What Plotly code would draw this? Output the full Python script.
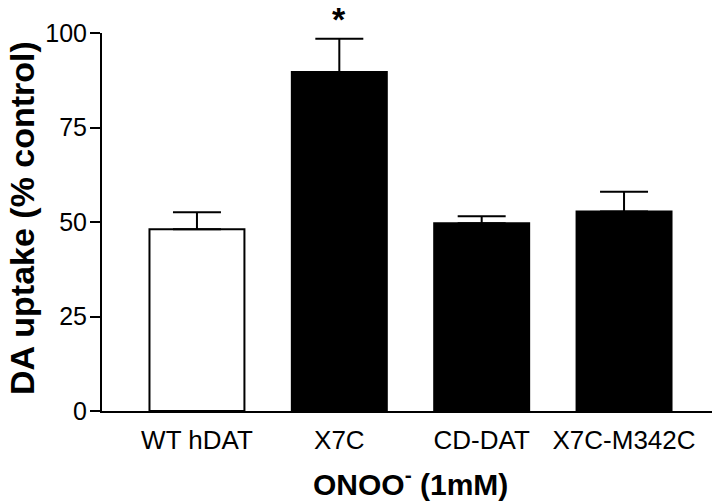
import plotly.graph_objects as go

categories = ["WT hDAT", "X7C", "CD-DAT", "X7C-M342C"]
values = [48.1, 89.7, 49.7, 52.8]
errors_up = [4.5, 8.8, 1.8, 5.2]
fill_colors = ["white", "black", "black", "black"]
y_ticks = [0, 25, 50, 75, 100]
significance = ["", "*", "", ""]
x_title = "<b>ONOO<sup>-</sup> (1mM)</b>"
y_title = "<b>DA uptake (% control)</b>"

FONT = "Liberation Sans, Arial, sans-serif"

fig = go.Figure()
fig.add_trace(go.Bar(
    x=categories,
    y=values,
    marker=dict(color=fill_colors, line=dict(color="black", width=2)),
    error_y=dict(type="data", symmetric=False, array=errors_up,
                 arrayminus=[0] * len(values), color="black",
                 thickness=2, width=24),
    width=0.667,
))

for cat, v, e, s in zip(categories, values, errors_up, significance):
    if s:
        fig.add_annotation(x=cat, y=v + e, xref="x", yref="y", text="<b>" + s + "</b>",
                           showarrow=False, yanchor="bottom", yshift=-1,
                           font=dict(size=34, color="black", family=FONT))

fig.add_annotation(x=0.5, y=-0.188, xref="paper", yref="paper", text=x_title,
                   showarrow=False, xanchor="center", yanchor="middle",
                   font=dict(size=30, color="black", family=FONT))
fig.add_annotation(x=-0.13, y=0.51, xref="paper", yref="paper", text=y_title,
                   showarrow=False, xanchor="center", yanchor="middle", textangle=-90,
                   font=dict(size=34, color="black", family=FONT))

fig.update_layout(
    width=712, height=496,
    margin=dict(l=94, r=1, t=25, b=93, autoexpand=False),
    plot_bgcolor="white", paper_bgcolor="white",
    showlegend=False,
    font=dict(family=FONT, color="black"),
)
fig.update_xaxes(
    range=[-0.667, 3.667],
    showline=True, linecolor="black", linewidth=2,
    ticks="", showgrid=False, zeroline=False,
    tickfont=dict(size=26),
    ticklabelstandoff=5,
    automargin=False,
)
fig.update_yaxes(
    range=[0, 100],
    tickvals=y_ticks,
    showline=True, linecolor="black", linewidth=2,
    ticks="outside", ticklen=10, tickwidth=2, tickcolor="black",
    showgrid=False, zeroline=False,
    tickfont=dict(size=25),
    ticklabelstandoff=-2,
    automargin=False,
)

fig.write_html("out.html")
